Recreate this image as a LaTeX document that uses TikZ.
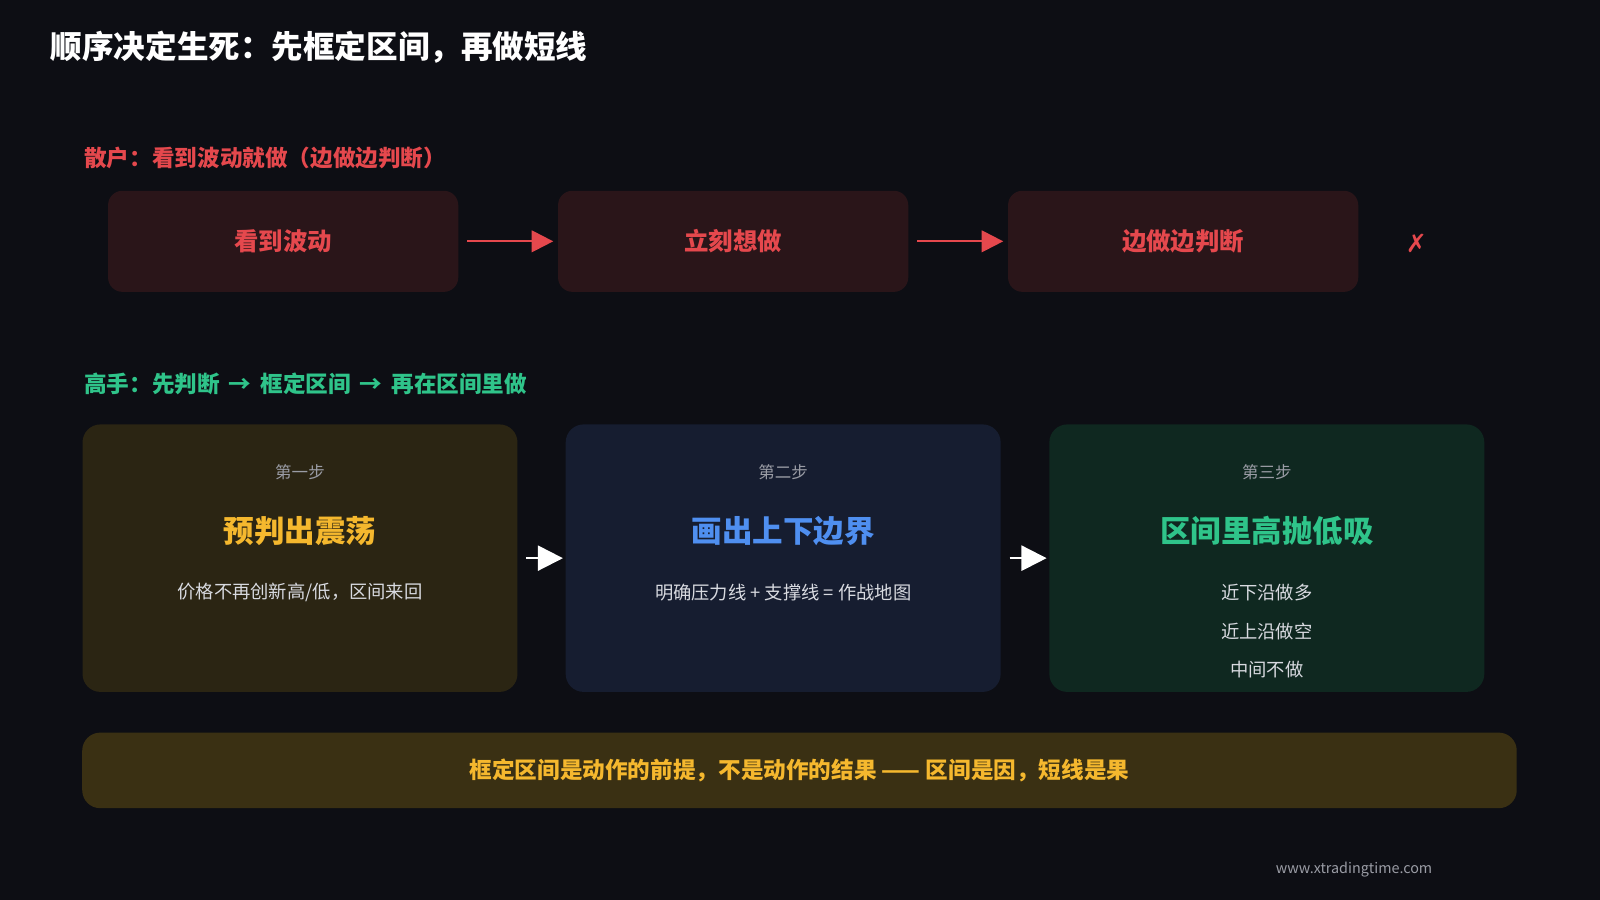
\documentclass[tikz,border=0pt]{standalone}
\usepackage{fontspec}
\setmainfont{Noto Sans CJK SC}
\newfontfamily\symfont{DejaVu Sans}
\usetikzlibrary{arrows.meta,positioning}
\definecolor{bgc}{HTML}{0D0E14}
\definecolor{redc}{HTML}{E5484D}
\definecolor{redbox}{HTML}{2A1519}
\definecolor{yelc}{HTML}{F5B82E}
\definecolor{yelbox}{HTML}{2B2513}
\definecolor{bluc}{HTML}{4F8FF0}
\definecolor{blubox}{HTML}{161D30}
\definecolor{grnc}{HTML}{2FC48A}
\definecolor{grnbox}{HTML}{0F2820}
\definecolor{barbox}{HTML}{3A3013}
\definecolor{greyc}{HTML}{9A9CA5}
\definecolor{bodyc}{HTML}{D8DAE0}
\begin{document}
\begin{tikzpicture}[x=0.01cm,y=-0.01cm,
every node/.style={inner sep=0pt},
retail/.style={fill=redbox,rounded corners=4pt,minimum width=3.43cm,minimum height=0.99cm,
  text=redc,font=\fontsize{6.8}{8}\selectfont\bfseries},
stepbox/.style={rounded corners=5pt,minimum width=4.26cm,minimum height=2.62cm},
small/.style={text=greyc,font=\fontsize{4.6}{6}\selectfont},
head/.style={font=\fontsize{8.5}{10}\selectfont\bfseries},
body/.style={text=bodyc,font=\fontsize{5.1}{6}\selectfont},
redarr/.style={-{Triangle[length=6pt,width=6pt]},redc,line width=0.6pt},
whtarr/.style={-{Triangle[length=7pt,width=7pt]},white,line width=0.6pt}]
\fill[bgc] (0,0) rectangle (1568,882);
\useasboundingbox (0,0) rectangle (1568,882);
% title
\node[anchor=west,text=white,font=\fontsize{8.8}{10}\selectfont\bfseries] (title) at (49,46) {顺序决定生死：先框定区间，再做短线};
% retail row
\node[anchor=west,text=redc,font=\fontsize{6.3}{8}\selectfont\bfseries] (rtitle) at (82,155) {散户：看到波动就做（边做边判断）};
\node[retail] (see) at (277.5,236.5) {看到波动};
\node[retail] (want) at (718.5,236.5) {立刻想做};
\node[retail] (judge) at (1159.5,236.5) {边做边判断};
\node[text=redc,font=\fontsize{7}{8}\selectfont\symfont] (cross) at (1388,239) {✗};
\draw[redarr] ([xshift=0.08cm]see.east) -- ([xshift=-0.04cm]want.west);
\draw[redarr] ([xshift=0.08cm]want.east) -- ([xshift=-0.04cm]judge.west);
% pro row
\node[anchor=west,text=grnc,font=\fontsize{6.3}{8}\selectfont\bfseries] (ptitle) at (82,376) {高手：先判断 \,→\, 框定区间 \,→\, 再在区间里做};
\node[stepbox,fill=yelbox] (s1) at (294,547) {};
\node[stepbox,fill=blubox] (s2) at (767.5,547) {};
\node[stepbox,fill=grnbox] (s3) at (1241.5,547) {};
\node[small] at (294,463) {第一步};
\node[head,text=yelc] at (294,520) {预判出震荡};
\node[body] at (294,581) {价格不再创新高/低，区间来回};
\node[small] at (767.5,463) {第二步};
\node[head,text=bluc] at (767.5,520) {画出上下边界};
\node[body] at (767.5,581) {明确压力线 + 支撑线 = 作战地图};
\node[small] at (1241.5,463) {第三步};
\node[head,text=grnc] at (1241.5,520) {区间里高抛低吸};
\node[body] at (1241.5,581) {近下沿做多};
\node[body] at (1241.5,619) {近上沿做空};
\node[body] at (1241.5,656) {中间不做};
\draw[whtarr] ([xshift=0.08cm]s1.east) -- ([xshift=-0.02cm]s2.west);
\draw[whtarr] ([xshift=0.08cm]s2.east) -- ([xshift=-0.02cm]s3.west);
% bottom bar
\node[fill=barbox,rounded corners=5pt,minimum width=14.05cm,minimum height=0.74cm,
  text=yelc,font=\fontsize{6.3}{8}\selectfont\bfseries] (bar) at (783.5,755) {框定区间是动作的前提，不是动作的结果 —— 区间是因，短线是果};
\node[text=greyc,font=\fontsize{4}{5}\selectfont] (url) at (1327,852) {www.xtradingtime.com};
\end{tikzpicture}
\end{document}
